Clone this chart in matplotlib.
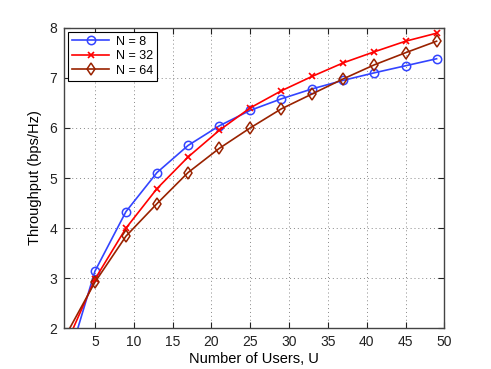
import matplotlib
matplotlib.use("Agg")
import matplotlib.pyplot as plt

# data
users = [1, 5, 9, 13, 17, 21, 25, 29, 33, 37, 41, 45, 49]
tput_n8 = [1.07, 3.14, 4.33, 5.11, 5.65, 6.04, 6.35, 6.58, 6.78, 6.95, 7.10, 7.24, 7.38]
tput_n32 = [1.58, 2.98, 4.00, 4.79, 5.42, 5.95, 6.40, 6.74, 7.03, 7.30, 7.52, 7.73, 7.89]
tput_n64 = [1.79, 2.92, 3.84, 4.49, 5.11, 5.59, 6.00, 6.38, 6.68, 6.98, 7.26, 7.50, 7.73]
labels = ["N = 8", "N = 32", "N = 64"]
x_ticks = [5, 10, 15, 20, 25, 30, 35, 40, 45, 50]
y_ticks = [2, 3, 4, 5, 6, 7, 8]

plt.rcParams['font.family'] = ['Liberation Sans', 'DejaVu Sans']

fig = plt.figure(figsize=(4.91, 3.69), dpi=100)
ax = fig.add_axes([0.13, 0.11, 0.775, 0.815])

ax.plot(users, tput_n8, color='#3344ff', linewidth=1.2, marker='o', markersize=6,
        markerfacecolor='none', markeredgewidth=1.1, label=labels[0])
ax.plot(users, tput_n32, color='#ff0000', linewidth=1.2, marker='x', markersize=5,
        markeredgewidth=1.2, label=labels[1])
ax.plot(users, tput_n64, color='#992200', linewidth=1.2, marker='d', markersize=6.5,
        markerfacecolor='none', markeredgewidth=1.1, label=labels[2])

ax.set_xlim(1, 50)
ax.set_ylim(2, 8)
ax.set_xticks(x_ticks)
ax.set_yticks(y_ticks)
ax.tick_params(direction='in', top=True, right=True, length=4, labelsize=10,
               colors='#222222', width=0.8, pad=5)
ax.grid(True, linestyle=(0, (1, 3)), color='#888888', linewidth=0.7)
for s in ax.spines.values():
    s.set_color('#444444')
    s.set_linewidth(1.0)

ax.set_xlabel("Number of Users, U", fontsize=10.5, labelpad=2)
ax.set_ylabel("Throughput (bps/Hz)", fontsize=10.5, labelpad=5)

leg = ax.legend(loc='upper left', fontsize=9, fancybox=False, framealpha=1,
                edgecolor='black', handlelength=3.0, handletextpad=0.5,
                borderpad=0.3, labelspacing=0.2, borderaxespad=0.35)
leg.get_frame().set_linewidth(0.8)

fig.savefig("out.png", dpi=100)
